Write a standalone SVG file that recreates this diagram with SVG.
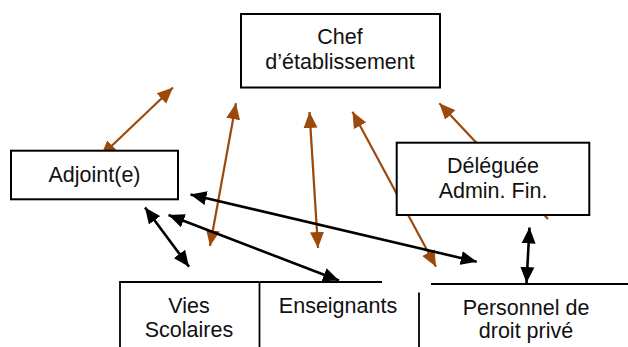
<svg xmlns="http://www.w3.org/2000/svg" width="628" height="347" viewBox="0 0 628 347">
<style>
.box{fill:#fff;stroke:#000;stroke-width:2}
.ln{fill:none;stroke:#000;stroke-width:1.8}
.t{font-family:"Liberation Sans",Arial,sans-serif;font-size:21.5px;fill:#111;text-anchor:middle}
.br{stroke:#9C4A0C;stroke-width:2.2;fill:none;marker-start:url(#mb);marker-end:url(#mb)}
.bk{stroke:#000;stroke-width:2.6;fill:none;marker-start:url(#mk);marker-end:url(#mk)}
</style>
<defs>
<marker id="mb" markerUnits="userSpaceOnUse" markerWidth="17" markerHeight="15" refX="16" refY="7.5" orient="auto-start-reverse"><path d="M0,0.5 L16,7.5 L0,14.5 z" fill="#9C4A0C"/></marker>
<marker id="mk" markerUnits="userSpaceOnUse" markerWidth="17" markerHeight="15" refX="16" refY="7.5" orient="auto-start-reverse"><path d="M0,0.5 L16,7.5 L0,14.5 z" fill="#000"/></marker>
</defs>
<g id="connectors">
<line class="br" x1="100.5" y1="156.5" x2="173" y2="87.5"/>
<line class="br" x1="210" y1="246" x2="236" y2="103.3"/>
<line class="br" x1="318" y1="248" x2="309.5" y2="112"/>
<line class="br" x1="436" y1="266.7" x2="352.5" y2="111.7"/>
<line style="stroke:#9C4A0C;stroke-width:2.2;fill:none;marker-start:url(#mb)" x1="439.3" y1="103.3" x2="548" y2="219"/>
<line class="bk" x1="190.5" y1="194.5" x2="476.7" y2="261.7"/>
<line class="bk" x1="168.5" y1="215" x2="339" y2="280.5"/>
<line class="bk" x1="145" y1="207.5" x2="189" y2="266.7"/>
<line class="bk" x1="529.5" y1="227.5" x2="526.5" y2="283"/>
</g>
<g id="chef">
<rect class="box" x="241" y="14" width="199" height="73.5"/>
<text class="t" x="340" y="44.3">Chef</text>
<text class="t" x="340" y="68.5">d’établissement</text>
</g>
<g id="adjoint">
<rect class="box" x="11" y="150.7" width="167" height="48.6"/>
<text class="t" x="94.5" y="182.3">Adjoint(e)</text>
</g>
<g id="deleguee">
<rect class="box" x="396.7" y="142.7" width="192.6" height="72.3"/>
<text class="t" x="493" y="173.3">Déléguée</text>
<text class="t" x="493" y="197.7">Admin. Fin.</text>
</g>
<g id="vies">
<path class="ln" d="M120,347 V282 H259.5 M259.5,282 V347"/>
<text class="t" x="189" y="313.3">Vies</text>
<text class="t" x="189" y="336.7">Scolaires</text>
</g>
<g id="enseignants">
<path class="ln" d="M259.5,282 H382"/>
<text class="t" x="338" y="313.3">Enseignants</text>
</g>
<g id="personnel">
<path class="ln" d="M419,292.5 V347 M431,284 H628"/>
<text class="t" x="526" y="315">Personnel de</text>
<text class="t" x="526" y="338">droit privé</text>
</g>
</svg>
